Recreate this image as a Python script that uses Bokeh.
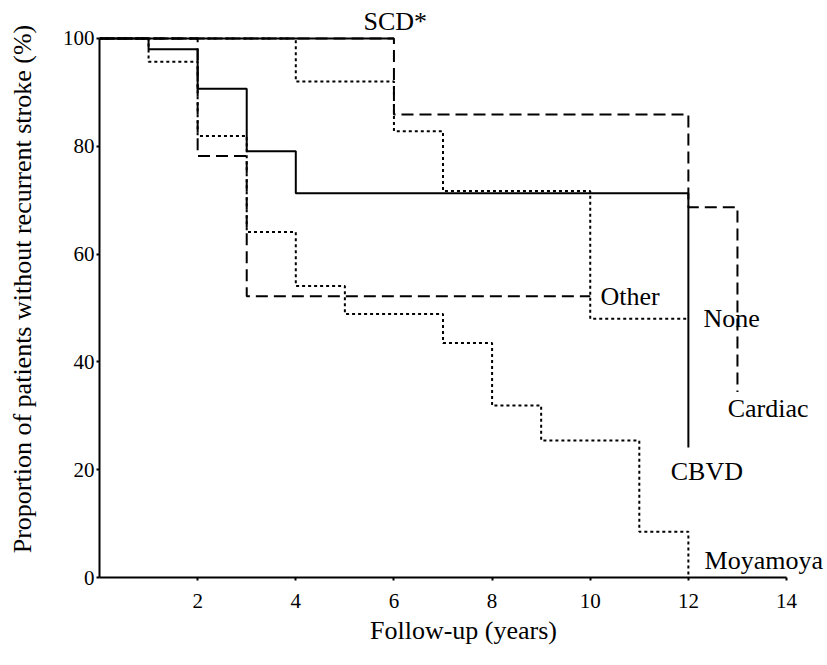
from bokeh.plotting import figure
from bokeh.models import Label, FixedTicker, Range1d
from bokeh.embed import file_html
from bokeh.resources import INLINE

# ---- data (Kaplan-Meier step curves: event times, survival levels, end of follow-up) ----
scd_times = [0]
scd_levels = [100]
scd_end = 6

cbvd_times = [0, 1, 2, 3, 4, 12]
cbvd_levels = [100, 98.0, 90.7, 79.1, 71.3, 24.1]
cbvd_end = 12

cardiac_times = [0, 6, 12, 13]
cardiac_levels = [100, 85.9, 68.7, 34.4]
cardiac_end = 13

other_times = [0, 2, 3]
other_levels = [100, 78.2, 52.2]
other_end = 10

none_times = [0, 4, 6, 7, 10]
none_levels = [100, 92.0, 82.8, 71.7, 48.0]
none_end = 12

moya_times = [0, 1, 2, 3, 4, 5, 7, 8, 9, 11, 12]
moya_levels = [100, 95.7, 81.9, 64.1, 54.1, 48.9, 43.5, 31.9, 25.4, 8.5, 0]
moya_end = 12

x_ticks = [2, 4, 6, 8, 10, 12, 14]
y_ticks = [0, 20, 40, 60, 80, 100]

FONT = "Liberation Serif"


def step_path(times, levels, end):
    xs, ys = [times[0]], [levels[0]]
    for i in range(1, len(times)):
        xs += [times[i], times[i]]
        ys += [levels[i - 1], levels[i]]
    xs.append(end)
    ys.append(levels[-1])
    return xs, ys


# frame spans past the axes so that the curve labels are not clipped;
# the axis lines are bounded to 0-14 and 0-100
p = figure(width=827, height=665,
           x_range=Range1d(0, 14.835), y_range=Range1d(0, 107.05),
           output_backend="svg", toolbar_location=None,
           min_border_left=99, min_border_right=0,
           min_border_top=0, min_border_bottom=88)

p.outline_line_color = None
p.xgrid.visible = False
p.ygrid.visible = False
p.background_fill_color = "white"
p.border_fill_color = "white"

curves = [
    (scd_times, scd_levels, scd_end, "solid"),
    (cbvd_times, cbvd_levels, cbvd_end, "solid"),
    (cardiac_times, cardiac_levels, cardiac_end, "12 6"),
    (other_times, other_levels, other_end, "12 6"),
    (none_times, none_levels, none_end, "3 3"),
    (moya_times, moya_levels, moya_end, "3 3"),
]
for t, s, e, dash in curves:
    xs, ys = step_path(t, s, e)
    p.line(xs, ys, line_color="black", line_width=2, line_dash=dash)

# axes
for ax in (p.xaxis[0], p.yaxis[0]):
    ax.axis_line_width = 2
    ax.axis_line_color = "black"
    ax.major_tick_line_width = 2
    ax.major_tick_line_color = "black"
    ax.major_tick_in = 0
    ax.major_tick_out = 3
    ax.minor_tick_line_color = None
    ax.major_label_text_font = FONT
    ax.major_label_text_font_size = "21px"
    ax.major_label_text_color = "black"
    ax.axis_label_text_font = FONT
    ax.axis_label_text_font_size = "26px"
    ax.axis_label_text_font_style = "normal"
    ax.axis_label_text_color = "black"

p.xaxis[0].ticker = FixedTicker(ticks=x_ticks)
p.yaxis[0].ticker = FixedTicker(ticks=y_ticks)
p.xaxis[0].bounds = (0, 14)
p.yaxis[0].bounds = (0, 100)
p.xaxis[0].axis_label = "Follow-up (years)"
p.yaxis[0].axis_label = "Proportion of patients without recurrent stroke (%)"
p.xaxis[0].major_label_standoff = 13
p.xaxis[0].axis_label_standoff = 5
p.yaxis[0].major_label_standoff = 2
p.yaxis[0].axis_label_standoff = 23

# curve labels, anchored to the curve ends
labels = [
    ("SCD*", scd_end - 0.62, scd_levels[-1] + 3.2),
    ("Other", other_end + 0.21, other_levels[-1]),
    ("None", none_end + 0.31, none_levels[-1]),
    ("Cardiac", cardiac_end - 0.2, cardiac_levels[-1] - 3.0),
    ("CBVD", cbvd_end - 0.36, cbvd_levels[-1] - 4.4),
    ("Moyamoya", moya_end + 0.33, moya_levels[-1] + 3.2),
]
for txt, lx, ly in labels:
    p.add_layout(Label(x=lx, y=ly, text=txt, text_font=FONT,
                       text_font_size="26px", text_color="black",
                       text_align="left", text_baseline="middle"))

open("out.html", "w").write(file_html(p, INLINE))
